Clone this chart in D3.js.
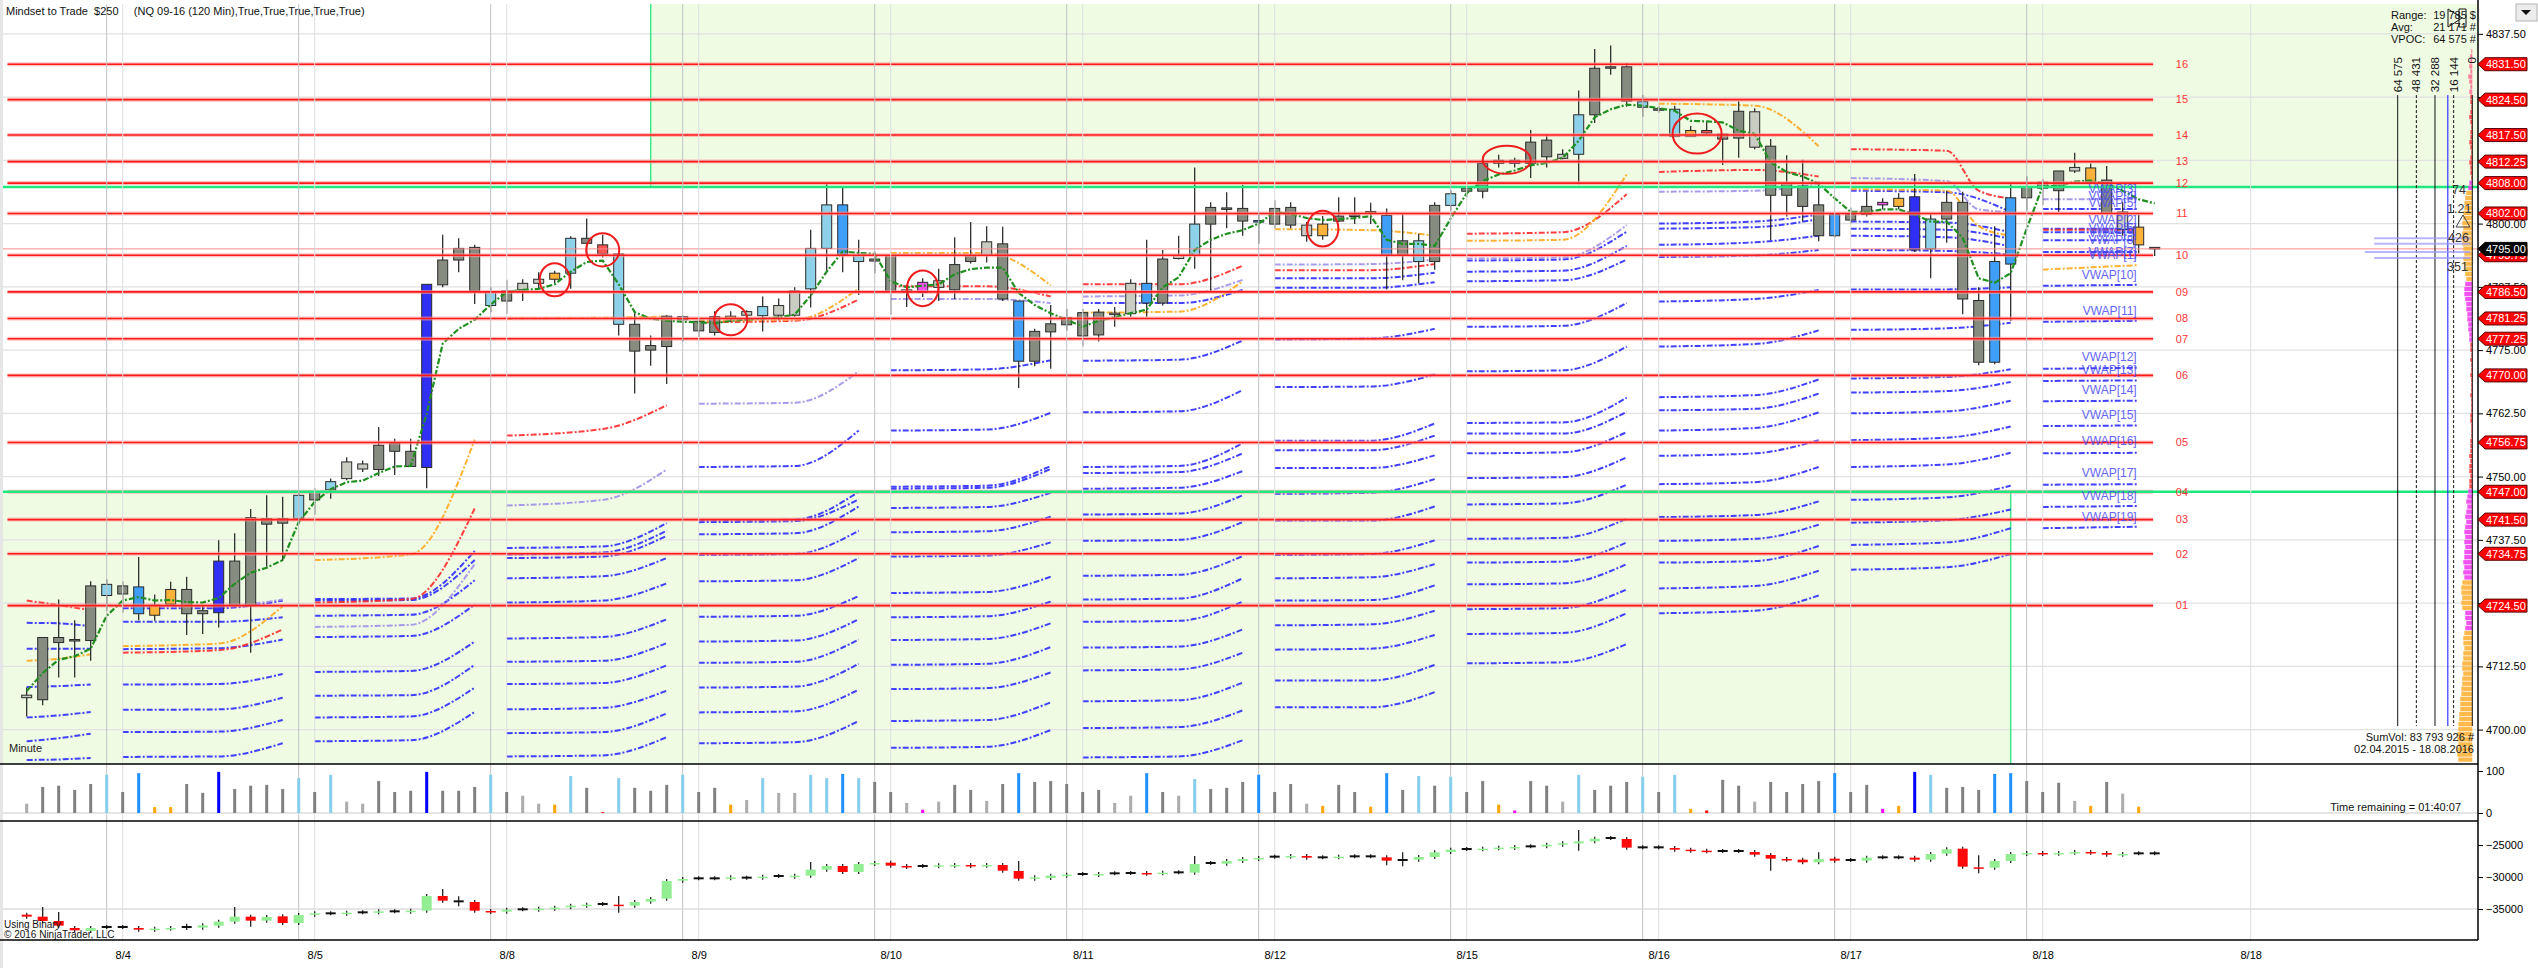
<!DOCTYPE html>
<html>
<head>
<meta charset="utf-8">
<script src="https://cdn.jsdelivr.net/npm/d3@7"></script>
<style>
  body { margin: 0; background: #fff; }
  svg { display: block; font-family: "Liberation Sans", Arial, sans-serif; }
  .axis text { font-size: 11px; fill: #000; }
  .axis line, .axis path { stroke: #000; }
</style>
</head>
<body>
<svg id="chart" width="2538" height="968"></svg>
<script>
// ---------- data ----------
const bodyTop = [
  4706.8,4718.2,4718.2,4717.8,4728.4,4728.7,4728.4,4728.2,4724.6,4727.7,
  4727.7,4723.5,4733.3,4733.3,4741.9,4741.7,4741.7,4746.3,4746.9,4749.0,
  4752.9,4752.5,4756.2,4756.6,4755.0,4788.0,4792.8,4795.1,4795.3,4786.5,
  4786.7,4788.2,4789.0,4790.2,4797.1,4797.1,4795.8,4794.0,4780.1,4775.9,
  4781.7,4781.6,4780.7,4781.6,4781.7,4782.6,4783.6,4783.8,4786.7,4795.1,
  4803.7,4803.7,4793.7,4793.0,4793.7,4786.9,4788.4,4788.7,4791.9,4793.7,
  4796.4,4796.0,4784.7,4778.7,4780.2,4781.4,4782.4,4782.5,4782.3,4788.2,
  4788.2,4793.0,4793.7,4799.9,4803.2,4803.1,4803.0,4800.6,4803.0,4803.2,
  4799.7,4799.9,4801.5,4801.7,4802.4,4801.6,4796.6,4796.6,4803.6,4805.9,
  4807.0,4811.9,4812.5,4812.5,4816.1,4816.5,4813.7,4821.5,4830.7,4831.0,
  4831.0,4824.1,4822.7,4822.6,4818.4,4818.4,4817.7,4822.2,4822.1,4815.3,
  4807.9,4807.4,4803.7,4801.8,4801.8,4803.4,4804.2,4805.0,4805.3,4800.9,
  4804.2,4804.2,4784.8,4792.5,4805.1,4807.2,4808.2,4810.4,4811.1,4811.0,
  4808.6,4802.3,4799.3,4795.3
];
const bodyBottom = [
  4706.3,4705.9,4717.2,4717.6,4717.6,4726.5,4726.8,4722.9,4722.6,4724.8,
  4722.9,4722.9,4723.1,4724.6,4724.6,4740.6,4740.8,4741.7,4745.4,4747.4,
  4749.6,4751.5,4751.4,4755.0,4752.0,4751.8,4787.9,4792.8,4786.7,4783.8,
  4784.7,4786.9,4788.2,4789.0,4790.2,4796.1,4794.0,4780.1,4774.8,4775.0,
  4775.7,4781.0,4778.8,4778.5,4781.2,4781.9,4781.8,4781.9,4781.9,4787.1,
  4795.1,4793.9,4792.5,4792.6,4786.6,4786.5,4786.4,4787.4,4786.9,4792.5,
  4793.7,4785.1,4772.8,4772.8,4778.6,4780.0,4777.8,4778.0,4782.1,4782.2,
  4784.3,4784.3,4793.1,4793.7,4799.9,4802.9,4800.5,4800.4,4799.9,4799.7,
  4797.6,4797.6,4800.5,4801.5,4802.2,4793.7,4793.7,4792.5,4792.5,4803.6,
  4806.4,4806.4,4811.9,4811.9,4811.9,4813.2,4812.9,4813.7,4821.5,4830.8,
  4824.2,4823.0,4822.5,4817.2,4817.2,4817.9,4816.7,4816.9,4815.1,4805.6,
  4805.6,4803.4,4797.6,4797.6,4800.7,4801.8,4803.7,4803.4,4794.8,4795.0,
  4800.9,4785.1,4772.6,4772.6,4792.0,4805.1,4807.0,4806.5,4810.4,4808.2,
  4802.0,4798.8,4795.8,4795.0
];
const barHigh = [
  4708.3,4718.2,4725.7,4721.6,4729.3,4729.7,4729.3,4734.1,4726.7,4729.2,
  4730.2,4724.6,4737.4,4738.8,4743.6,4746.3,4746.0,4747.2,4747.7,4749.6,
  4753.8,4753.2,4759.8,4757.5,4757.5,4788.0,4797.8,4797.1,4795.8,4787.4,
  4788.9,4789.0,4790.4,4790.7,4797.5,4801.0,4797.8,4794.0,4782.3,4777.9,
  4781.9,4781.9,4781.2,4782.7,4782.7,4782.9,4785.6,4785.2,4787.4,4798.8,
  4807.9,4807.2,4796.8,4794.5,4793.7,4787.8,4789.2,4791.1,4797.3,4800.3,
  4799.5,4799.4,4784.7,4779.2,4783.9,4783.1,4783.1,4783.1,4783.5,4789.0,
  4796.8,4794.8,4797.6,4811.1,4804.2,4806.2,4807.7,4801.9,4804.6,4804.2,
  4800.3,4801.5,4805.2,4805.2,4804.1,4803.0,4801.9,4798.0,4804.2,4806.6,
  4807.5,4813.2,4813.6,4813.0,4818.5,4817.6,4814.7,4826.3,4834.5,4835.2,
  4831.7,4825.4,4823.3,4823.3,4819.3,4820.3,4817.7,4824.2,4822.8,4816.7,
  4813.5,4812.6,4808.3,4801.8,4803.2,4806.3,4805.0,4806.0,4809.8,4802.0,
  4806.5,4806.3,4787.4,4799.5,4807.9,4809.3,4808.8,4810.4,4814.0,4811.9,
  4811.4,4804.2,4801.8,4795.3
];
const barLow = [
  4702.6,4704.8,4710.3,4710.3,4713.6,4723.5,4723.1,4721.6,4721.5,4724.6,
  4718.7,4718.9,4720.2,4724.2,4715.2,4732.2,4733.3,4740.6,4742.5,4745.6,
  4749.3,4750.9,4750.1,4750.3,4752.0,4747.7,4787.4,4790.4,4784.1,4782.5,
  4782.2,4784.7,4786.9,4788.2,4787.1,4794.0,4793.3,4777.9,4766.4,4771.9,
  4768.3,4776.7,4777.6,4777.9,4780.5,4780.9,4778.7,4780.9,4781.6,4783.4,
  4790.5,4790.4,4785.9,4790.2,4782.0,4783.5,4785.5,4784.7,4785.1,4792.1,
  4792.3,4784.7,4767.5,4771.8,4771.3,4778.8,4775.7,4776.7,4779.6,4781.6,
  4781.6,4783.8,4792.9,4791.1,4786.6,4799.1,4797.6,4796.0,4799.1,4799.1,
  4796.4,4796.8,4800.3,4799.9,4799.9,4787.0,4788.8,4788.2,4790.9,4802.6,
  4805.2,4805.0,4811.1,4811.1,4809.0,4811.1,4812.7,4807.8,4819.9,4829.4,
  4823.1,4821.1,4821.9,4817.2,4817.2,4817.7,4811.6,4813.0,4814.7,4796.7,
  4801.4,4800.4,4796.5,4797.3,4800.0,4801.4,4802.8,4802.8,4794.4,4789.2,
  4796.2,4782.1,4772.0,4772.2,4780.8,4802.6,4803.7,4802.3,4810.0,4807.9,
  4802.0,4797.6,4794.1,4793.6
];
// bar colour class per bar (G gray, L light gray, S sky blue, D dodger blue, B blue, O orange, M magenta, R red)
const barClass = ("LGGGGSGDOO" + "GGBGGGGSGS" + "LLGGGBGGGS" + "GLLOSGRSGG" + "GSGGOLSLLS" +
  "SDSGGLMLGG" + "LGDGGGGGLL" + "DGLSGGGDGG" + "LOGGODGSGS" + "GGOMGGLSGG" +
  "GSGSORGGLG" + "GGGDGGMOBS" + "GGGDDGGGLO" + "GLOR").split('');
const volume = [
  22,62,65,55,69,91,50,95,14,14,69,48,98,57,65,67,57,83,50,91,
  27,22,76,50,53,98,53,53,62,91,50,41,22,20,88,60,2,83,60,53,
  67,91,50,60,20,31,83,48,48,91,83,93,83,74,50,24,8,27,67,55,
  29,69,95,74,76,69,50,55,24,41,95,50,41,81,57,60,74,91,
  50,69,22,17,67,50,15,95,55,88,65,86,50,76,20,6,76,65,27,91,
  55,65,74,86,50,91,10,6,79,65,27,74,50,69,76,95,50,67,10,17,
  98,91,60,62,55,93,95,76,50,72,29,17,74,46,15
];
const maLine = [
  4707.6,4711.2,4713.8,4714.5,4716.0,4722.5,4725.5,4726.2,4725.5,4725.6,
  4725.2,4725.1,4726.0,4728.8,4731.0,4732.0,4733.5,4741.0,4745.0,4747.5,
  4748.9,4749.2,4750.7,4752.0,4752.1,4762.4,4776.3,4779.2,4781.0,4784.0,
  4786.5,4786.9,4787.1,4788.0,4790.5,4792.4,4792.7,4788.0,4782.5,4781.2,
  4780.8,4780.6,4780.5,4780.3,4780.8,4781.0,4781.2,4781.5,4782.0,4785.8,
  4790.5,4794.5,4794.2,4794.0,4788.6,4787.4,4787.7,4788.0,4790.0,4791.0,
  4791.3,4791.3,4786.3,4783.9,4782.3,4781.0,4779.6,4780.8,4781.5,4782.3,
  4783.0,4787.4,4789.4,4794.8,4796.8,4798.0,4798.7,4800.0,4802.3,4801.9,
  4801.1,4800.7,4800.9,4801.1,4801.5,4796.8,4796.0,4796.0,4795.6,4801.0,
  4806.0,4808.4,4809.7,4810.5,4811.5,4812.0,4813.0,4816.4,4821.0,4822.6,
  4823.5,4823.3,4822.8,4822.3,4820.3,4820.2,4820.0,4818.4,4817.7,4812.1,
  4810.2,4809.3,4807.9,4805.0,4802.3,4802.3,4802.8,4802.8,4801.8,4800.4,
  4800.4,4797.2,4789.2,4788.3,4790.2,4799.0,4807.4,4807.4,4808.3,4808.5,
  4807.9,4806.5,4804.8,4804.0
];
const deltaOpen = [
  -35884,-36197,-36873,-37968,-38436,-37811,-37811,-37968,-38228,-38072,
  -37811,-37916,-37603,-36978,-36197,-36822,-36145,-37186,-35884,-35676,
  -35728,-35520,-35520,-35363,-35416,-35259,-32967,-33801,-33905,-35311,
  -35416,-35051,-35103,-34947,-34739,-34479,-34218,-34322,-34479,-33853,
  -33384,-30572,-30207,-30207,-30207,-30103,-30103,-29843,-29947,-29791,
  -28854,-28281,-29218,-27968,-27760,-28281,-28281,-28332,-28228,-28124,
  -28228,-28124,-29062,-30259,-30155,-29791,-29530,-29686,-29426,-29374,
  -29374,-29426,-29270,-29322,-27812,-27916,-27499,-27187,-26822,-26822,
  -26718,-26926,-26926,-26770,-26770,-26926,-27343,-27291,-26874,-26093,
  -25624,-25676,-25520,-25468,-25208,-25208,-24947,-24739,-24427,-23906,
  -24062,-25364,-25364,-25468,-25729,-25885,-25937,-25937,-26093,-26562,
  -27187,-27291,-27708,-27135,-27343,-27447,-26926,-26926,-26979,-27291,
  -26353,-25572,-28489,-28541,-27499,-26406,-26249,-26353,-26197,-26093,
  -26249,-26510,-26301,-26301
];
const deltaClose = [
  -36197,-36873,-37603,-38332,-37968,-37811,-37811,-38228,-38072,-37968,
  -37811,-37551,-36978,-36197,-36822,-36249,-37186,-35936,-35676,-35676,
  -35572,-35520,-35363,-35363,-35259,-32967,-33696,-33801,-35259,-35467,
  -35103,-35051,-34947,-34791,-34479,-34322,-34218,-34479,-33905,-33436,
  -30624,-30312,-30207,-30207,-30051,-30103,-29947,-29843,-29791,-28854,
  -28281,-29218,-27968,-27812,-28228,-28437,-28281,-28176,-28124,-28281,
  -28124,-29010,-30259,-30051,-29791,-29635,-29530,-29530,-29426,-29374,
  -29478,-29322,-29270,-27968,-27812,-27499,-27187,-27031,-26822,-26718,
  -26979,-26926,-26822,-26770,-26770,-27447,-27343,-26874,-26145,-25729,
  -25624,-25572,-25416,-25312,-25208,-24947,-24739,-24427,-24010,-23906,
  -25416,-25364,-25364,-25729,-25885,-25989,-25937,-25937,-26510,-27135,
  -27291,-27708,-27187,-27447,-27343,-26979,-26926,-26926,-27291,-26406,
  -25676,-28385,-28593,-27499,-26406,-26249,-26406,-26249,-26093,-26197,
  -26510,-26406,-26301,-26301
];
// [bar, high, low] for the visible delta wicks
const deltaWicks = [
  [1,-34999,-36873],[2,-35780,-37603],[10,-37603,-37968],[13,-34999,-36978],[14,-36197,-37447],
  [26,-32186,-33696],[27,-33332,-34270],[37,-33281,-35259],[49,-27968,-29791],[62,-27812,-30259],
  [73,-27031,-29322],[85,-26926,-27864],[86,-26458,-28020],[97,-22969,-25572],[109,-26562,-28697],
  [112,-26458,-27708],[122,-26926,-29114]
];

// sessions of the banded VWAP study
const sessionStart = [0, 6, 18, 30, 42, 54, 66, 78, 90, 102, 114, 126];
const sessionKnee  = [2, 12, 24, 36, 48, 60, 72, 84, 96, 108, 120, 132];
const sessionEnd   = [4, 16, 28, 40, 52, 64, 76, 88, 100, 112, 124, 132];
const blueBands = [
  [[4721.1,4721.0,4720.4],[4716.0,4716.0,4716.0],[4708.4,4708.6,4708.9],[4702.4,4702.8,4703.5],[4697.7,4698.3,4699.2],[4694.0,4694.1,4694.4]],
  [[4724.0,4724.0,4725.5],[4721.3,4721.3,4722.2],[4715.9,4716.1,4717.8],[4708.9,4709.0,4711.0],[4703.9,4704.0,4706.3],[4699.5,4699.6,4701.9],[4694.6,4694.7,4697.3]],
  [[4725.8,4725.9,4735.3],[4725.5,4725.6,4733.5],[4722.5,4722.7,4729.5],[4718.3,4718.5,4724.7],[4711.4,4711.6,4717.4],[4706.7,4706.8,4712.8],[4702.4,4702.6,4708.3],[4697.7,4697.9,4703.5]],
  [[4735.9,4736.2,4740.8],[4734.6,4735.0,4739.3],[4733.9,4734.2,4738.3],[4729.9,4730.3,4733.9],[4725.1,4725.5,4728.9],[4718.0,4718.3,4721.8],[4713.4,4713.6,4717.1],[4709.0,4709.2,4712.7],[4704.0,4704.3,4707.7],[4699.3,4699.5,4703.2],[4694.7,4694.9,4698.5]],
  [[4751.9,4752.1,4759.1],[4741.3,4741.5,4747.0],[4741.0,4741.2,4745.5],[4738.6,4738.8,4744.1],[4734.5,4734.7,4739.3],[4729.3,4729.5,4733.9],[4722.3,4722.5,4726.4],[4717.4,4717.6,4721.8],[4713.2,4713.4,4717.8],[4708.3,4708.5,4713.0],[4703.4,4703.6,4707.9],[4697.3,4697.5,4701.7]],
  [[4771.0,4771.2,4773.0],[4759.1,4759.3,4762.6],[4748.0,4748.2,4752.1],[4747.6,4747.8,4751.5],[4743.8,4744.0,4746.8],[4739.0,4739.2,4742.1],[4734.2,4734.4,4737.0],[4727.0,4727.2,4730.2],[4722.2,4722.4,4725.3],[4717.7,4717.9,4721.0],[4712.8,4713.0,4716.3],[4708.0,4708.2,4711.3],[4701.7,4701.9,4705.4],[4696.4,4696.6,4699.9]],
  [[4784.3,4784.3,4786.9],[4772.9,4773.1,4776.9],[4762.7,4762.9,4767.1],[4751.9,4752.1,4756.6],[4750.7,4750.9,4754.6],[4747.6,4747.8,4751.1],[4742.5,4742.7,4746.3],[4737.3,4737.5,4741.0],[4730.4,4730.6,4734.3],[4725.7,4725.9,4729.9],[4721.3,4721.5,4725.3],[4716.2,4716.4,4719.8],[4711.7,4711.9,4715.2],[4705.6,4705.8,4709.3],[4700.3,4700.5,4703.8],[4694.5,4694.7,4697.9]],
  [[4789.2,4789.2,4790.3],[4787.3,4787.3,4788.4],[4777.1,4777.3,4779.2],[4767.7,4767.8,4770.2],[4757.1,4757.1,4760.5],[4755.2,4755.2,4758.1],[4751.7,4751.7,4754.2],[4746.6,4746.8,4749.5],[4741.3,4741.3,4744.1],[4734.5,4734.7,4737.4],[4729.9,4730.1,4732.7],[4725.5,4725.6,4728.5],[4720.6,4720.8,4723.5],[4715.8,4716.0,4718.7],[4709.7,4709.7,4712.8],[4704.4,4704.4,4707.4]],
  [[4792.7,4792.9,4798.4],[4790.5,4790.7,4795.6],[4788.6,4788.8,4792.9],[4779.6,4779.8,4784.3],[4770.8,4771.0,4775.7],[4760.6,4760.7,4765.6],[4758.5,4758.5,4762.8],[4754.6,4754.8,4758.8],[4749.7,4749.9,4753.8],[4744.5,4744.7,4748.4],[4737.7,4737.9,4741.7],[4733.0,4733.2,4737.0],[4728.7,4728.9,4732.7],[4723.8,4724.0,4727.7],[4718.9,4719.1,4723.0],[4713.1,4713.3,4716.9]],
  [[4800.0,4800.4,4801.8],[4799.0,4799.3,4800.9],[4795.8,4796.3,4797.6],[4793.4,4793.7,4794.8],[4784.6,4785.1,4786.9],[4775.7,4776.2,4778.9],[4765.7,4766.1,4769.2],[4763.1,4763.4,4766.4],[4759.1,4759.6,4762.7],[4754.1,4754.6,4757.2],[4748.5,4748.9,4751.9],[4742.0,4742.4,4745.1],[4737.3,4737.7,4740.5],[4733.0,4733.3,4736.3],[4727.9,4728.4,4731.4],[4723.0,4723.5,4726.5]],
  [[4806.5,4806.2,4802.3],[4800.4,4800.2,4798.3],[4799.0,4798.8,4797.0],[4797.6,4797.3,4795.5],[4794.8,4794.6,4793.9],[4787.0,4787.0,4787.4],[4779.0,4779.3,4780.4],[4769.4,4769.7,4771.2],[4766.6,4766.9,4768.7],[4762.5,4762.9,4765.0],[4757.2,4757.7,4759.9],[4751.9,4752.4,4754.7],[4745.4,4745.9,4748.2],[4740.9,4741.4,4743.5],[4736.5,4737.0,4739.8],[4731.6,4732.1,4734.7]],
  [[4802.9,4802.9],[4799.0,4799.0],[4798.3,4798.3],[4796.7,4796.7],[4794.4,4794.4],[4787.7,4787.9],[4780.6,4780.8],[4771.3,4771.5],[4768.9,4769.0],[4764.9,4765.0],[4760.0,4760.1],[4754.6,4754.7],[4748.4,4748.5],[4744.0,4744.2],[4739.8,4740.1]]
];
const orangeBand = [
  [4713.6,4714.0,4714.9],[4716.5,4717.0,4724.4],[4733.5,4734.6,4757.3],[4781.2,4781.4,4781.6],
  [4780.8,4781.0,4787.2],[4794.2,4794.2,4787.8],[4782.4,4782.6,4788.6],[4798.9,4798.7,4797.6],
  [4796.6,4796.8,4809.7],[4823.7,4823.3,4815.3],[4806.8,4806.5,4799.5,4797.6],[4790.9,4791.8]
];
const redBand = [
  [4725.5,4724.6,4723.6],[4715.2,4715.7,4719.8],[4725.1,4725.8,4743.7],[4758.1,4759.4,4764.1],
  [4780.5,4780.8,4785.0],[4787.6,4787.6,4785.6],[4788.0,4788.0,4791.7],[4790.8,4790.8,4792.0],
  [4798.0,4798.3,4805.8],[4810.2,4810.6,4809.3],[4814.7,4814.4,4806.5,4805.0],[4798.8,4798.8]
];
const purpleBand = [
  [],[4724.4,4724.4,4725.7],[4720.3,4720.7,4732.7],[4744.3,4745.4,4751.4],
  [4764.4,4764.6,4770.8],[4785.1,4785.1,4784.3],[4785.6,4785.8,4788.9],[4791.9,4792.0,4792.9],
  [4793.1,4793.3,4799.7],[4806.3,4806.5,4807.9],[4809.0,4808.4,4802.8,4802.3],[4804.8,4804.8]
];
const vwapLabels = ['VWAP[3]','VWAP[4]','VWAP[5]','VWAP[2]','VWAP[6]','VWAP[9]','VWAP[8]','VWAP[7]','VWAP[1]','VWAP[10]',
  'VWAP[11]','VWAP[12]','VWAP[13]','VWAP[14]','VWAP[15]','VWAP[16]','VWAP[17]','VWAP[18]','VWAP[19]'];
const vwapLabelPrices = [4806.9,4805.5,4804.1,4800.7,4799.1,4798.2,4796.8,4794.4,4793.8,4789.9,
  4782.7,4773.7,4771.1,4767.2,4762.2,4757.1,4750.8,4746.3,4742.1];

// horizontal levels
const levelNames = ['16','15','14','13','12','11','10','09','08','07','06','05','04','03','02','01'];
const levelPrices = [4831.5,4824.5,4817.5,4812.25,4808,4802,4793.75,4786.5,4781.25,4777.25,4770,4756.75,4747,4741.5,4734.75,4724.5];
const lastPrice = 4795;
const zoneUpperFromBar = 39, zoneUpperPrice = 4807.25;
const zoneLowerToBar = 124, zoneLowerPrice = 4747;

// marked bars
const circleBars = [33, 36, 44, 56, 81, 92.5, 104.4];
const circlePrices = [4788.9, 4794.8, 4781.0, 4787.2, 4799.0, 4812.6, 4817.8];

// time axis
const sessionBreakBars = [5,17,29,41,53,65,77,89,101,113,125];
const dateTickBars = [6,18,30,42,54,66,78,90,102,114,126,139];
const dateLabels = ['8/4','8/5','8/8','8/9','8/10','8/11','8/12','8/15','8/16','8/17','8/18','8/18'];
const priceTicks = [4700,4712.5,4725,4737.5,4750,4762.5,4775,4787.5,4800,4812.5,4825,4837.5];

// volume profile (one row per point, top row 4834)
const profileTopPrice = 4834;
const profileVol = [
  900,1700,1700,2600,1700,3500,2600,1700,2600,
  1700,1700,900,1700,2600,1700,900,1700,1700,2600,1700,900,1700,2600,1700,1700,900,
  2600,3500,
  5200,6100,6900,6900,7800,7800,8700,7800,8700,9500,8700,7800,6900,7800,6900,6100,6100,5200,
  6100,6900,6900,6100,5200,5200,4300,4300,3500,3500,2600,2600,
  1700,1700,900,1700,900,900,1700,900,900,900,1700,900,900,900,1700,1700,900,900,900,1700,1700,1700,2600,1700,2600,2600,1700,2600,2600,
  3500,4300,5200,4300,5200,6100,5200,6100,6900,6100,6900,6100,6900,6900,7800,6900,7800,6900,
  8700,9500,9500,8700,9500,8700,
  6100,6100,5200,6100,
  6900,7800,7800,6900,7800,7800,8700,8700,7800,8700,8700,9500,9500,10400,10400,10400,11300,11300,12100,12100,
  13000,13000,12100,13000,13000,12100
];
const profileBandLow  = [4826, 4809, 4807, 4789, 4777, 4748, 4730, 4724, 4720, 4694];
const profileBandHigh = [4834, 4825, 4808, 4806, 4788, 4776, 4747, 4729, 4723, 4719];
const profileBandKind = ['pink','red','mag','org','mag','red','mag','org','mag','org'];
const profileScaleTicks = [64575, 48431, 32288, 16144, 0];
const profileScaleLabels = ['64 575', '48 431', '32 288', '16 144', '0'];
const profileAvg = 21171;
const profileMarkPrices = [4797.1, 4796.0, 4794.4, 4793.2];
const profileMarkVol = [85000, 85000, 93000, 85000];
const volTicks = [0, 100];
const deltaTicks = [-35000, -30000, -25000];

// ---------- drawing ----------
const svg = d3.select('#chart');
const plotLeft = 3, plotRight = 2478;
const mainTop = 4, mainBottom = 764, volTop = 764, volBottom = 821, deltaBottom = 940;

const x = d3.scaleLinear().domain([0, 139]).range([26.7, 26.7 + 16 * 139]);
const y = d3.scaleLinear().domain([4693.2, 4843.4]).range([mainBottom, mainTop]);
const yVol = d3.scaleLinear().domain([0, 100]).range([813, 771]);
const yDelta = d3.scaleLinear().domain([-35000, -25000]).range([909, 845]);
const xProf = d3.scaleLinear().domain([0, 64575]).range([2472.3, 2397.7]);

const candleFill = { G: '#878c80', L: '#c9ccc2', S: '#8ed2ea', D: '#3f9ef7', B: '#2f2ff5', O: '#fbb23b', M: '#f055f0', R: '#ff5555' };
const volFill = { G: '#808080', L: '#acacac', S: '#87ceeb', D: '#1e90ff', B: '#0000ff', O: '#ffa500', M: '#ff00ff', R: '#ff0000' };
const profFill = { pink: '#ff6f8f', red: '#ff3b3b', mag: '#f040f0', org: '#ffb23a' };
const dashDot = '6,2,2,2';

const defs = svg.append('defs');
defs.append('clipPath').attr('id', 'clipMain').append('rect')
  .attr('x', plotLeft).attr('y', mainTop).attr('width', plotRight - plotLeft).attr('height', mainBottom - mainTop);
defs.append('clipPath').attr('id', 'clipVol').append('rect')
  .attr('x', plotLeft).attr('y', volTop).attr('width', plotRight - plotLeft).attr('height', volBottom - volTop);
defs.append('clipPath').attr('id', 'clipDelta').append('rect')
  .attr('x', plotLeft).attr('y', volBottom).attr('width', plotRight - plotLeft).attr('height', deltaBottom - volBottom);

// window edge
svg.append('rect').attr('x', 0).attr('y', 0).attr('width', 3).attr('height', 968).attr('fill', '#e6e6e6');

const main = svg.append('g').attr('clip-path', 'url(#clipMain)');

// shaded zones
main.append('rect')
  .attr('x', x(zoneUpperFromBar)).attr('y', mainTop)
  .attr('width', plotRight - x(zoneUpperFromBar)).attr('height', y(zoneUpperPrice) - mainTop)
  .attr('fill', '#f0fbe4');
main.append('rect')
  .attr('x', plotLeft).attr('y', y(zoneLowerPrice))
  .attr('width', x(zoneLowerToBar) - plotLeft).attr('height', mainBottom - y(zoneLowerPrice))
  .attr('fill', '#f0fbe4');

// horizontal grid
main.selectAll('line.hgrid').data(priceTicks).join('line')
  .attr('x1', plotLeft).attr('x2', plotRight)
  .attr('y1', d => y(d)).attr('y2', d => y(d))
  .attr('stroke', '#e2e2e2').attr('stroke-width', 1.2);

// vertical grid through all panels
svg.append('g').selectAll('line').data(sessionBreakBars).join('line')
  .attr('x1', d => x(d)).attr('x2', d => x(d)).attr('y1', mainTop).attr('y2', deltaBottom)
  .attr('stroke', '#c2c2c2').attr('stroke-width', 1);
svg.append('g').selectAll('line').data(dateTickBars).join('line')
  .attr('x1', d => x(d)).attr('x2', d => x(d)).attr('y1', mainTop).attr('y2', deltaBottom)
  .attr('stroke', '#dedede').attr('stroke-width', 1);

// zone borders
main.append('line').attr('x1', x(zoneUpperFromBar)).attr('x2', x(zoneUpperFromBar))
  .attr('y1', mainTop).attr('y2', y(zoneUpperPrice)).attr('stroke', '#3de88a').attr('stroke-width', 1.5);
main.append('line').attr('x1', x(zoneLowerToBar)).attr('x2', x(zoneLowerToBar))
  .attr('y1', y(zoneLowerPrice)).attr('y2', mainBottom).attr('stroke', '#3de88a').attr('stroke-width', 1.5);

// VWAP band lines
const bandLine = d3.line().x(d => x(d[0])).y(d => y(d[1])).curve(d3.curveMonotoneX);
function bandPoints(s, vals) {
  const a = sessionStart[s], k = sessionKnee[s], e = sessionEnd[s];
  let xs;
  if (vals.length === 2) xs = [a, e];
  else if (vals.length === 3) xs = [a, k, e];
  else xs = [a, k, k + 2, e];
  return vals.map((v, i) => [xs[i], v]);
}
const bands = main.append('g');
blueBands.forEach((lines, s) => {
  lines.forEach(vals => {
    bands.append('path').attr('d', bandLine(bandPoints(s, vals)))
      .attr('fill', 'none').attr('stroke', '#2020ff').attr('stroke-width', 2)
      .attr('stroke-dasharray', dashDot).attr('opacity', 0.85);
  });
});
[[purpleBand, '#a090e8'], [redBand, '#ff2a2a'], [orangeBand, '#ffa81e']].forEach(([set, col]) => {
  set.forEach((vals, s) => {
    if (!vals.length) return;
    bands.append('path').attr('d', bandLine(bandPoints(s, vals)))
      .attr('fill', 'none').attr('stroke', col).attr('stroke-width', 2)
      .attr('stroke-dasharray', dashDot).attr('opacity', 0.9);
  });
});

// candles
const candles = main.append('g');
bodyTop.forEach((t, i) => {
  candles.append('line').attr('x1', x(i)).attr('x2', x(i))
    .attr('y1', y(barHigh[i])).attr('y2', y(barLow[i]))
    .attr('stroke', '#1e1e1e').attr('stroke-width', 1.2);
  const h = Math.max(1.5, y(bodyBottom[i]) - y(t));
  candles.append('rect').attr('x', x(i) - 5).attr('y', y(t)).attr('width', 10).attr('height', h)
    .attr('fill', candleFill[barClass[i]]).attr('stroke', '#2a2a2a').attr('stroke-width', 1);
});

// moving average
main.append('path').datum(maLine)
  .attr('d', d3.line().x((d, i) => x(i)).y(d => y(d)))
  .attr('fill', 'none').attr('stroke', '#1f8f1f').attr('stroke-width', 2.2).attr('stroke-dasharray', dashDot);

// level lines and last-price line
main.append('line').attr('x1', plotLeft).attr('x2', plotRight)
  .attr('y1', y(lastPrice)).attr('y2', y(lastPrice)).attr('stroke', '#ff8a8a').attr('stroke-width', 1);
const lv = main.append('g');
levelPrices.forEach((p, i) => {
  lv.append('line').attr('x1', x(-1.2)).attr('x2', x(132.9)).attr('y1', y(p)).attr('y2', y(p))
    .attr('stroke', '#ff9a9a').attr('stroke-width', 4).attr('opacity', 0.6);
  lv.append('line').attr('x1', x(-1.2)).attr('x2', x(132.9)).attr('y1', y(p)).attr('y2', y(p))
    .attr('stroke', '#ff1a1a').attr('stroke-width', 1.6);
});
// zone lines
main.append('line').attr('x1', plotLeft).attr('x2', plotRight)
  .attr('y1', y(zoneUpperPrice)).attr('y2', y(zoneUpperPrice)).attr('stroke', '#1fe87c').attr('stroke-width', 2.5);
main.append('line').attr('x1', plotLeft).attr('x2', plotRight)
  .attr('y1', y(zoneLowerPrice)).attr('y2', y(zoneLowerPrice)).attr('stroke', '#1fe87c').attr('stroke-width', 2.5);

levelPrices.forEach((p, i) => {
  main.append('text').attr('x', x(134.7)).attr('y', y(p)).attr('dy', '0.35em')
    .attr('text-anchor', 'middle').attr('font-size', 11).attr('fill', '#ff3535').text(levelNames[i]);
});

// circled bars
const circleRx = [15, 16.5, 16.5, 15.7, 15.7, 24, 24.5];
const circleRy = [16.6, 16.6, 15.5, 17.8, 17.8, 14, 20];
circleBars.forEach((b, i) => {
  main.append('ellipse').attr('cx', x(b)).attr('cy', y(circlePrices[i]))
    .attr('rx', circleRx[i]).attr('ry', circleRy[i])
    .attr('fill', 'none').attr('stroke', '#ee1c1c').attr('stroke-width', 2);
});

// VWAP labels (they sit on top of each other in the original, as here)
vwapLabels.forEach((t, i) => {
  main.append('text').attr('x', x(132) - 2).attr('y', y(vwapLabelPrices[i])).attr('dy', '0.35em')
    .attr('text-anchor', 'end').attr('font-size', 12).attr('fill', '#4a4af5').attr('opacity', 0.85).text(t);
});

// volume profile
const prof = main.append('g');
profileVol.forEach((v, i) => {
  const p = profileTopPrice - i;
  const band = profileBandLow.findIndex((lo, j) => p >= lo && p <= profileBandHigh[j]);
  prof.append('rect').attr('x', xProf(v)).attr('y', y(p + 0.5))
    .attr('width', xProf(0) - xProf(v)).attr('height', Math.max(1, y(p - 0.5) - y(p + 0.5) - 0.7))
    .attr('fill', profFill[profileBandKind[band]]).attr('opacity', 0.9);
});
profileScaleTicks.forEach((v, i) => {
  prof.append('line').attr('x1', xProf(v)).attr('x2', xProf(v))
    .attr('y1', y(4825.4)).attr('y2', y(4700.7))
    .attr('stroke', '#111').attr('stroke-width', 1)
    .attr('stroke-dasharray', (i === 1 || i === 3) ? '3,2' : null);
  prof.append('text').attr('transform', `translate(${xProf(v) + 4},57) rotate(-90)`)
    .attr('text-anchor', 'end').attr('font-size', 11.5).attr('fill', '#111').text(profileScaleLabels[i]);
});
prof.append('line').attr('x1', xProf(profileAvg)).attr('x2', xProf(profileAvg))
  .attr('y1', y(4825.4)).attr('y2', y(4700.7)).attr('stroke', '#1010ff').attr('stroke-width', 1);
profileMarkPrices.forEach((p, i) => {
  prof.append('line').attr('x1', xProf(profileMarkVol[i])).attr('x2', xProf(0) - 2)
    .attr('y1', y(p)).attr('y2', y(p)).attr('stroke', '#9a9aff').attr('stroke-width', 2).attr('opacity', 0.7);
});
const note = (t, px, py, fs) => prof.append('text').attr('x', px).attr('y', py)
  .attr('font-size', fs).attr('fill', '#333').text(t);
note('74', 2452, 194, 12.5);
note('1.21', 2447, 213, 12.5);
prof.append('path').attr('d', 'M2463,215 L2456,227 L2470,227 Z').attr('fill', 'none').attr('stroke', '#444');
note('426', 2448, 242, 12.5);
note('351', 2447, 271, 12.5);

// info texts
const info = svg.append('g').attr('font-size', 11).attr('fill', '#111');
[['Range:', '19 785 $', 19], ['Avg:', '21 171 #', 31], ['VPOC:', '64 575 #', 43]].forEach(([a, b, yy]) => {
  info.append('text').attr('x', 2391).attr('y', yy).text(a);
  info.append('text').attr('x', 2476).attr('y', yy).attr('text-anchor', 'end').text(b);
});
svg.append('path').attr('d', 'M2448,9 L2462,18 L2448,27 Z M2459,9 h7 v18 h-7 Z')
  .attr('fill', 'none').attr('stroke', '#111').attr('stroke-width', 1);
info.append('text').attr('x', 2474).attr('y', 741).attr('text-anchor', 'end').text('SumVol: 83 793 926 #');
info.append('text').attr('x', 2474).attr('y', 753).attr('text-anchor', 'end').text('02.04.2015 - 18.08.2016');
svg.append('text').attr('x', 9).attr('y', 752).attr('font-size', 11).attr('fill', '#222').text('Minute');
svg.append('text').attr('x', 6).attr('y', 15).attr('font-size', 11).attr('fill', '#111')
  .attr('xml:space', 'preserve')
  .text('Mindset to Trade  $250     (NQ 09-16 (120 Min),True,True,True,True,True)');

// dropdown button
svg.append('rect').attr('x', 2516).attr('y', 4).attr('width', 21).attr('height', 17)
  .attr('fill', '#ececec').attr('stroke', '#b5b5b5');
svg.append('path').attr('d', 'M2521,10 L2531,10 L2526,15 Z').attr('fill', '#111');

// volume panel
const volG = svg.append('g').attr('clip-path', 'url(#clipVol)');
volG.append('line').attr('x1', plotLeft).attr('x2', plotRight).attr('y1', yVol(0)).attr('y2', yVol(0))
  .attr('stroke', '#dcdcdc').attr('stroke-width', 1.5);
volG.selectAll('rect.v').data(volume).join('rect')
  .attr('x', (d, i) => x(i) - 1.5).attr('y', d => yVol(d))
  .attr('width', 3).attr('height', d => yVol(0) - yVol(d))
  .attr('fill', (d, i) => volFill[barClass[i]]);
svg.append('text').attr('x', 2461).attr('y', 811).attr('text-anchor', 'end')
  .attr('font-size', 11).attr('fill', '#111').text('Time remaining = 01:40:07');

// delta panel
const dG = svg.append('g').attr('clip-path', 'url(#clipDelta)');
dG.append('line').attr('x1', plotLeft).attr('x2', plotRight).attr('y1', yDelta(-35000)).attr('y2', yDelta(-35000))
  .attr('stroke', '#dcdcdc').attr('stroke-width', 1.5);
deltaOpen.forEach((o, i) => {
  const c = deltaClose[i];
  const w = deltaWicks.find(d => d[0] === i);
  const hi = w ? w[1] : Math.max(o, c);
  const lo = w ? w[2] : Math.min(o, c);
  dG.append('line').attr('x1', x(i)).attr('x2', x(i))
    .attr('y1', yDelta(hi) - 2).attr('y2', yDelta(lo) + 2).attr('stroke', '#111').attr('stroke-width', 1.2);
  if (o === c) {
    dG.append('rect').attr('x', x(i) - 5).attr('y', yDelta(o) - 1).attr('width', 10).attr('height', 2).attr('fill', '#111');
  } else {
    const top = Math.max(o, c), bot = Math.min(o, c);
    dG.append('rect').attr('x', x(i) - 5).attr('y', yDelta(top)).attr('width', 10)
      .attr('height', Math.max(1.5, yDelta(bot) - yDelta(top)))
      .attr('fill', c > o ? '#93ee93' : '#ff0a0a');
  }
});
svg.append('text').attr('x', 4).attr('y', 928).attr('font-size', 10).attr('fill', '#111').text('Using Binary');
svg.append('text').attr('x', 4).attr('y', 938).attr('font-size', 10).attr('fill', '#111').text('\u00a9 2016 NinjaTrader, LLC');

// panel borders
[volTop, volBottom, deltaBottom].forEach(yy => {
  svg.append('line').attr('x1', 0).attr('x2', plotRight).attr('y1', yy).attr('y2', yy)
    .attr('stroke', '#000').attr('stroke-width', 1.5);
});

// right axes
const axMain = svg.append('g').attr('class', 'axis').attr('transform', `translate(${plotRight},0)`)
  .call(d3.axisRight(y).tickValues(priceTicks).tickFormat(d3.format('.2f')).tickSize(5).tickSizeOuter(0));
axMain.select('.domain').remove();
svg.append('g').attr('class', 'axis').attr('transform', `translate(${plotRight},0)`)
  .call(d3.axisRight(yVol).tickValues(volTicks).tickSize(5).tickSizeOuter(0))
  .select('.domain').remove();
svg.append('g').attr('class', 'axis').attr('transform', `translate(${plotRight},0)`)
  .call(d3.axisRight(yDelta).tickValues(deltaTicks).tickFormat(d3.format('d')).tickSize(5).tickSizeOuter(0))
  .select('.domain').remove();
svg.append('line').attr('x1', plotRight).attr('x2', plotRight).attr('y1', 0).attr('y2', deltaBottom)
  .attr('stroke', '#000').attr('stroke-width', 1.5);

// price markers on the axis
function marker(p, fill, stroke) {
  const yc = y(p);
  const g = svg.append('g');
  g.append('path').attr('d', `M${plotRight},${yc} L${plotRight + 7},${yc - 6.5} L2527,${yc - 6.5} L2527,${yc + 6.5} L${plotRight + 7},${yc + 6.5} Z`)
    .attr('fill', fill).attr('stroke', stroke).attr('stroke-width', 1);
  g.append('text').attr('x', plotRight + 8).attr('y', yc).attr('dy', '0.36em')
    .attr('font-size', 11).attr('fill', '#fff').text(d3.format('.2f')(p));
}
levelPrices.forEach(p => marker(p, '#ff0000', '#5a0000'));
marker(lastPrice, '#000', '#000');

// date axis
const axDate = svg.append('g').attr('class', 'axis').attr('transform', `translate(0,${deltaBottom + 6})`)
  .call(d3.axisBottom(x).tickValues(dateTickBars).tickFormat((d, i) => dateLabels[i]).tickSize(0));
axDate.select('.domain').remove();
axDate.selectAll('text').attr('font-size', 11).attr('dy', '0.9em');
</script>
</body>
</html>
